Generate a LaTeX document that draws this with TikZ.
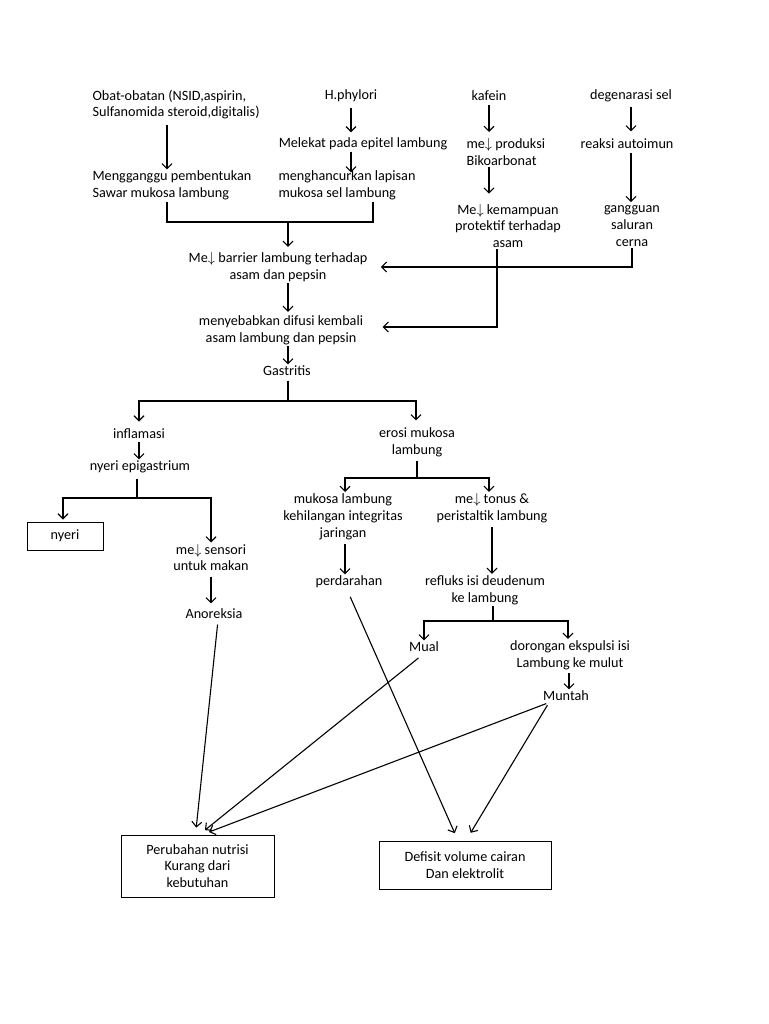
\documentclass[tikz,border=0pt]{standalone}
\usepackage{fontspec}
\setmainfont{Carlito}
\usetikzlibrary{arrows.meta}
\tikzset{
  lbl/.style={inner sep=1pt, font=\fontsize{14.2}{16.8}\selectfont},
  boxed/.style={lbl, draw, line width=1pt},
  arr/.style={-{Straight Barb[length=5pt,width=10pt]}},
}
\begin{document}
\begin{tikzpicture}[x=1pt, y=-1pt, line width=1.1pt]
  \fill[white] (0,0) rectangle (768,1024);
  \useasboundingbox (0,0) rectangle (768,1024);
  % causes
  \node[lbl, anchor=west, align=left] (obat) at (91,104.5) {Obat-obatan (NSID,aspirin,\\Sulfanomida steroid,digitalis)};
  \node[lbl, anchor=west, align=left] (ganggu) at (91,185.5) {Mengganggu pembentukan\\Sawar mukosa lambung};
  \node[lbl] (hp) at (351,96) {H.phylori};
  \node[lbl] (melekat) at (363,144) {Melekat pada epitel lambung};
  \node[lbl, anchor=west, align=left] (hancur) at (277,185.5) {menghancurkan lapisan\\mukosa sel lambung};
  \node[lbl] (kafein) at (489,96) {kafein};
  \node[lbl, anchor=west, align=left] (produksi) at (465,152) {me$\downarrow$ produksi\\Bikoarbonat};
  \node[lbl, align=center] (protektif) at (508,226) {Me$\downarrow$ kemampuan\\protektif terhadap\\asam};
  \node[lbl] (degen) at (631,96) {degenarasi sel};
  \node[lbl] (autoimun) at (627,144) {reaksi autoimun};
  \node[lbl, align=center] (cerna) at (632,226) {gangguan\\saluran\\cerna};
  % main chain
  \node[lbl, align=center] (barrier) at (278,267) {Me$\downarrow$ barrier lambung terhadap\\asam dan pepsin};
  \node[lbl, align=center] (difusi) at (281,330) {menyebabkan difusi kembali\\asam lambung dan pepsin};
  \node[lbl] (gastritis) at (287,371) {Gastritis};
  % left branch
  \node[lbl] (inflamasi) at (139,434) {inflamasi};
  \node[lbl] (epigas) at (140,467) {nyeri epigastrium};
  \node[boxed, minimum width=76pt, minimum height=28pt] (nyeri) at (65,536) {nyeri};
  \node[lbl, align=center] (sensori) at (211,557.5) {me$\downarrow$ sensori\\untuk makan};
  \node[lbl] (anoreksia) at (214,614) {Anoreksia};
  % right branch
  \node[lbl, align=center] (erosi) at (417,442.5) {erosi mukosa\\lambung};
  \node[lbl, align=center] (integritas) at (343,516.5) {mukosa lambung\\kehilangan integritas\\jaringan};
  \node[lbl, align=center] (tonus) at (492,508) {me$\downarrow$ tonus \&\\peristaltik lambung};
  \node[lbl] (perdarahan) at (349,582) {perdarahan};
  \node[lbl, align=center] (refluks) at (485,590) {refluks isi deudenum\\ke lambung};
  \node[lbl] (mual) at (424,647) {Mual};
  \node[lbl, align=center] (dorongan) at (570,655) {dorongan ekspulsi isi\\Lambung ke mulut};
  \node[lbl] (muntah) at (566,696) {Muntah};
  % outcomes
  \node[boxed, align=center, minimum width=153pt, minimum height=62pt] (nutrisi) at (197.5,866) {Perubahan nutrisi\\Kurang dari\\kebutuhan};
  \node[boxed, align=center, minimum width=172pt, minimum height=48pt] (defisit) at (465,865) {Defisit volume cairan\\Dan elektrolit};
  % junctions
  \coordinate (j1) at (288,222);
  \coordinate (j2) at (288,401);
  \coordinate (j3) at (137,498);
  \coordinate (j4) at (417,478);
  \coordinate (j5) at (493,621);
  % connectors
  \draw[arr, shorten <=4pt] (obat.south -| 167,0) -- (ganggu.north -| 167,0);
  \draw[arr, shorten <=4pt, shorten >=4pt] (hp.south -| 351,0) -- (melekat.north -| 351,0);
  \draw[arr, shorten >=-3pt] (melekat.south -| 351,0) -- (hancur.north -| 351,0);
  \draw (ganggu.south -| 167,0) |- (j1) -| (hancur.south -| 373,0);
  \draw[arr, shorten >=4pt] (j1) -- (barrier.north -| j1);
  \draw[arr, shorten <=2pt, shorten >=5pt] (kafein.south -| 489,0) -- (produksi.north -| 489,0);
  \draw[arr, shorten >=9pt] (produksi.south -| 489,0) -- (protektif.north -| 489,0);
  \draw[arr, shorten <=3pt, shorten >=6pt] (degen.south -| 631,0) -- (autoimun.north -| 631,0);
  \draw[arr, shorten <=2pt, shorten >=2pt] (autoimun.south -| 631,0) -- (cerna.north -| 631,0);
  \draw[arr] (cerna.south -| 632,0) |- ([xshift=12pt]barrier.east);
  \draw[arr] (protektif.south -| 497,0) |- ([xshift=18pt,yshift=3pt]difusi.east);
  \draw[arr, shorten >=2pt] (barrier.south -| 288,0) -- (difusi.north -| 288,0);
  \draw[arr] (difusi.south -| 288,0) -- (gastritis.north -| 288,0);
  \draw[shorten <=3pt] (gastritis.south -| j2) -- (j2);
  \draw[arr, shorten >=6pt] (j2) -| (inflamasi.north);
  \draw[arr, shorten >=6pt] (j2) -| (erosi.north -| 416,0);
  \draw[arr, shorten <=2pt] (inflamasi.south) -- (epigas.north -| inflamasi);
  \draw[shorten <=4pt] (epigas.south -| j3) -- (j3);
  \draw[arr, shorten >=2pt] (j3) -| (nyeri.north -| 63,0);
  \draw[arr] (j3) -| (sensori.north -| 211,0);
  \draw[arr, shorten <=4pt, shorten >=4pt] (sensori.south -| 211,0) -- (anoreksia.north -| 211,0);
  \draw[arr, shorten <=4pt, shorten >=7pt] (anoreksia.south -| 218,0) -- ([xshift=-2pt]nutrisi.north);
  \draw[shorten <=2pt] (erosi.south) -- (j4);
  \draw[arr] (j4) -| (integritas.north -| 345,0);
  \draw[arr] (j4) -| (tonus.north -| 489,0);
  \draw[arr, shorten <=3pt] (integritas.south -| 345,0) -- (perdarahan.north -| 345,0);
  \draw[arr, shorten <=8pt, shorten >=8pt] (perdarahan.south -| 347,0) -- ([xshift=-7pt]defisit.north);
  \draw[arr, shorten <=3pt] (tonus.south -| 492,0) -- (refluks.north -| 492,0);
  \draw (refluks.south -| j5) -- (j5);
  \draw[arr] (j5) -| (mual.north);
  \draw[arr] (j5) -| (dorongan.north -| 568,0);
  \draw[arr, shorten <=2pt] (dorongan.south -| 569,0) -- (muntah.north -| 569,0);
  \draw[arr, shorten <=7pt, shorten >=7pt] (mual.south) -- ([xshift=2pt]nutrisi.north);
  \draw[arr, shorten <=3pt, shorten >=7pt] ([xshift=-17pt]muntah.south) -- ([xshift=5pt]nutrisi.north);
  \draw[arr, shorten <=3pt, shorten >=9pt] ([xshift=-17pt]muntah.south) -- ([xshift=1pt]defisit.north);
\end{tikzpicture}
\end{document}
